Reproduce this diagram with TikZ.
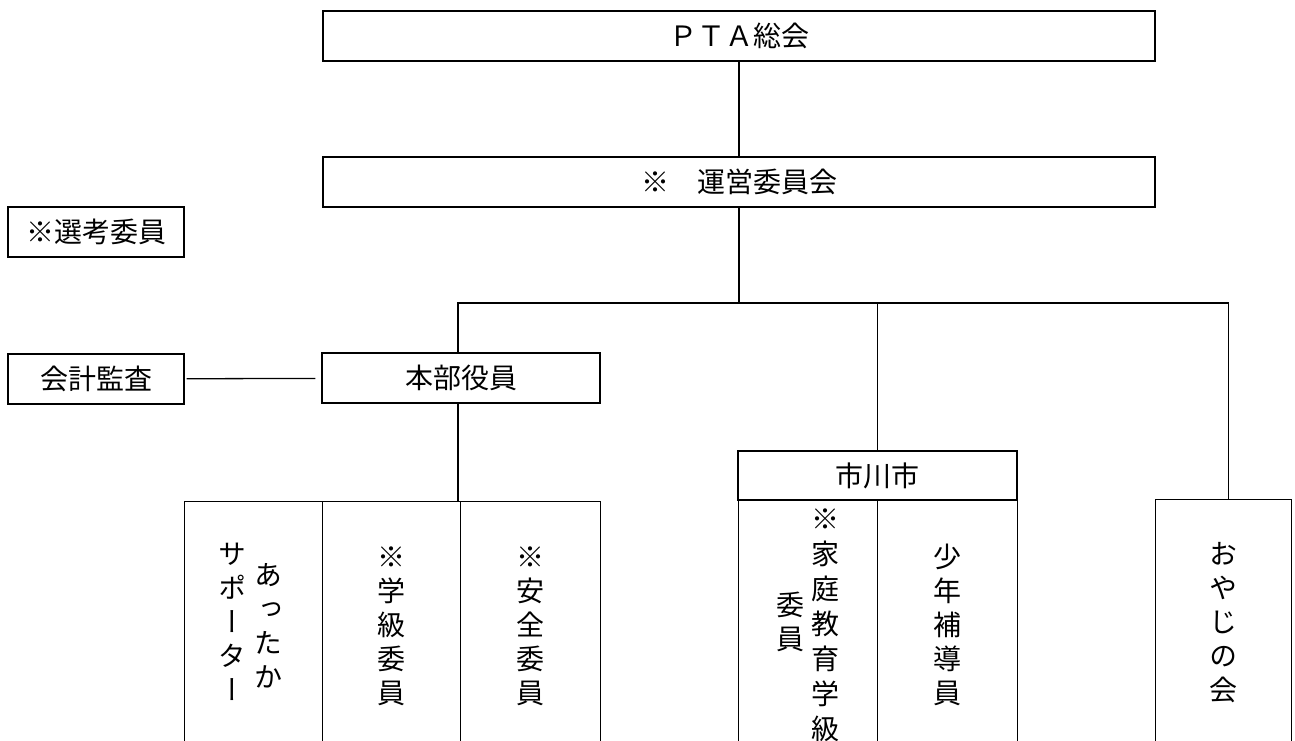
\documentclass[tikz,border=0pt]{standalone}
\usepackage{fontspec}
\newfontfamily\jp{Noto Sans CJK JP}
\newfontfamily\jpv[RawFeature=+vert]{Noto Sans CJK JP}

\begin{document}
\begin{tikzpicture}[x=1pt, y=-1pt, line width=1.3pt,
  font=\jp\fontsize{28}{34}\selectfont,
  box/.style={draw, inner sep=0pt, minimum height=50},
  colbox/.style={draw, inner sep=0pt, anchor=north west, minimum height=300},
  tate/.style={font=\jpv\fontsize{28}{34}\selectfont, align=center, inner sep=0pt}]

\useasboundingbox (0,0) rectangle (1295,741);
\clip (0,0) rectangle (1295,741);

% upper boxes
\node[box, minimum width=832] (pta)  at (739,36)  {ＰＴＡ総会};
\node[box, minimum width=832] (unei) at (739,182) {※　運営委員会};
\node[box, minimum width=176] (senko)  at (96,232) {※選考委員};
\node[box, minimum width=176] (kaikei) at (96,379) {会計監査};
\node[box, minimum width=278] (honbu)  at (461,378) {本部役員};
\node[box, minimum width=279, minimum height=49] (ichi) at (877.5,475.5) {市川市};

% lower columns (cut off at the bottom)
\node[colbox, minimum width=138] (atta)   at (184,501) {};
\node[colbox, minimum width=138] (gakkyu) at (322,501) {};
\node[colbox, minimum width=140] (anzen)  at (460,501) {};
\node[colbox, minimum width=139] (katei)  at (738,500) {};
\node[colbox, minimum width=140] (shonen) at (877,500) {};
\node[colbox, minimum width=136] (oyaji)  at (1155,499) {};

% vertical texts
\node[tate] (atta1) at (268,626) {あ\\っ\\た\\か};
\node[tate] (atta2) at (232,622) {サ\\ポ\\ー\\タ\\ー};
\node[tate] (gakkyu1) at (391,626) {※\\学\\級\\委\\員};
\node[tate] (anzen1)  at (530,626) {※\\安\\全\\委\\員};
\node[tate, font=\jpv\fontsize{28}{35}\selectfont] (katei1) at (825,625) {※\\家\\庭\\教\\育\\学\\級};
\node[tate] (katei2)  at (790,622) {委\\員};
\node[tate] (shonen1) at (947,625) {少\\年\\補\\導\\員};
\node[tate] (oyaji1)  at (1223,623) {お\\や\\じ\\の\\会};

% connectors
\coordinate (bus) at (739,303);
\draw (pta) -- (unei);
\draw (unei) -- (bus);
\draw ([xshift=-3pt]honbu.north) |- (bus) -| ([xshift=5pt]oyaji.north);
\draw (bus) -| (ichi.north);
\draw ([xshift=-3pt]honbu.south) -- ([xshift=-3pt]honbu.south |- gakkyu.north);
\draw[shorten <=2pt, shorten >=6pt] (kaikei) -- (honbu);

\end{tikzpicture}
\end{document}
